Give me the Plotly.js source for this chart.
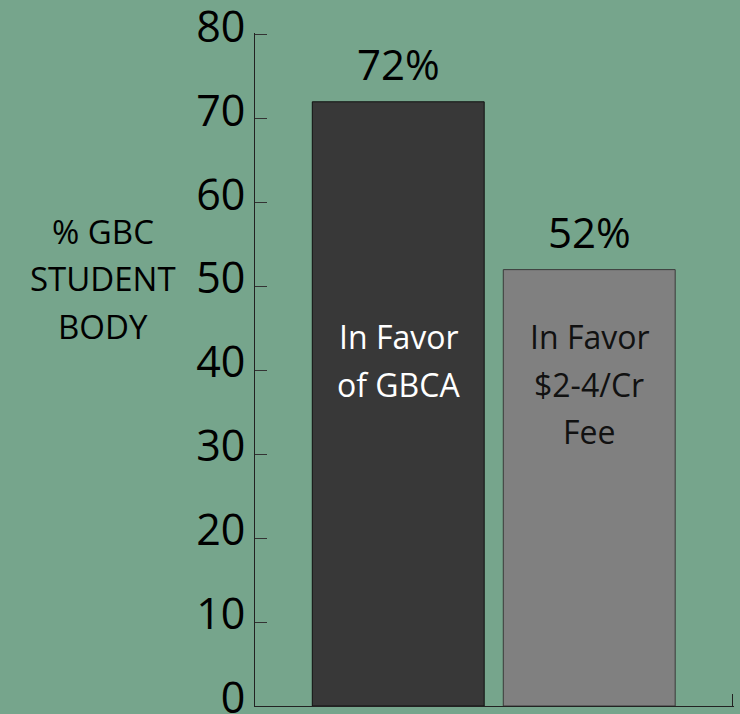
<!DOCTYPE html>
<html>
<head>
<meta charset="utf-8">
<script src="https://cdn.plot.ly/plotly-3.0.1.min.js"></script>
<style>html,body{margin:0;padding:0;background:#76A58C;}</style>
</head>
<body>
<div id="chart" style="width:740px;height:714px;"></div>
<script>
// ---- data ----
const categories = ["In Favor of GBCA", "In Favor $2-4/Cr Fee"];
const values = [72, 52];
const valueLabels = ["72%", "52%"];
const barTextLines = [["In Favor", "of GBCA"], ["In Favor", "$2-4/Cr", "Fee"]];
const yTitleLines = ["% GBC", "STUDENT", "BODY"];
const yTickVals = [0, 10, 20, 30, 40, 50, 60, 70, 80];

// ---- style ----
const BG = "#76A58C";
const FONT = "Open Sans, sans-serif";
const barColors = ["#383838", "#808080"];
const barLines = ["#111111", "#3a3a3a"];
const barTextColors = ["#ffffff", "#111111"];
const xIdx = categories.map((_, i) => i);

const annotations = [];
valueLabels.forEach((t, i) => {
  annotations.push({
    x: xIdx[i], y: values[i], xref: "x", yref: "y",
    text: t, showarrow: false, yanchor: "bottom", yshift: 8,
    font: {family: FONT, size: 42, color: "#000"}
  });
});
barTextLines.forEach((lines, i) => {
  lines.forEach((ln, j) => {
    annotations.push({
      x: xIdx[i], y: 44, xref: "x", yref: "y",
      text: ln, showarrow: false, yanchor: "middle", yshift: -j * 47.5,
      font: {family: FONT, size: 32, color: barTextColors[i]}
    });
  });
});
yTitleLines.forEach((ln, j) => {
  annotations.push({
    x: -0.3165, y: 56.6, xref: "paper", yref: "y",
    text: ln, showarrow: false, xanchor: "center", yanchor: "middle", yshift: -j * 47.5,
    font: {family: FONT, size: 33, color: "#000"}
  });
});

const trace = {
  type: "bar",
  x: xIdx,
  y: values,
  text: categories,
  textposition: "none",
  hoverinfo: "text+y",
  marker: {color: barColors, line: {color: barLines, width: 1}}
};

const layout = {
  width: 740, height: 714,
  margin: {l: 255, r: 5.5, t: 33.3, b: 8, pad: 0},
  paper_bgcolor: BG, plot_bgcolor: BG,
  bargap: 0.1,
  showlegend: false,
  font: {family: FONT, color: "#000"},
  xaxis: {
    range: [-0.75, 1.758], showgrid: false, zeroline: false,
    showline: true, linecolor: "#222", linewidth: 1,
    tickmode: "array", tickvals: [1.75], ticks: "inside", ticklen: 12,
    tickcolor: "#222", showticklabels: false, fixedrange: true
  },
  yaxis: {
    range: [0, 80.2], showgrid: false, zeroline: false,
    showline: true, linecolor: "#222", linewidth: 1,
    tickmode: "array", tickvals: yTickVals,
    ticks: "inside", ticklen: 12, tickcolor: "#333",
    ticklabelstandoff: 0, ticklabelshift: -8, ticklabeloverflow: "allow",
    tickfont: {family: FONT, size: 43, color: "#000"}, fixedrange: true
  },
  annotations: annotations
};

Plotly.newPlot("chart", [trace], layout, {displayModeBar: false, staticPlot: true});
</script>
</body>
</html>
